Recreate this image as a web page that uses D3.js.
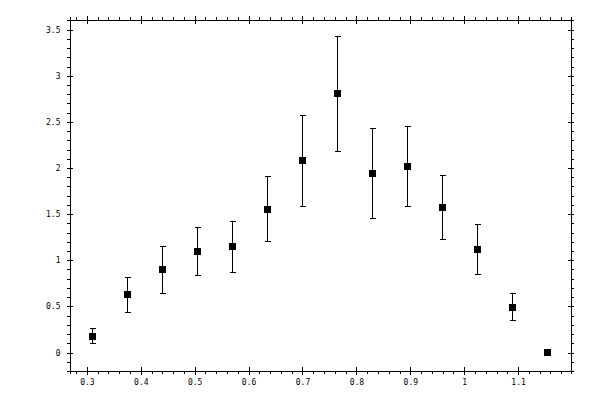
<!DOCTYPE html>
<html>
<head>
<meta charset="utf-8">
<script src="https://cdn.jsdelivr.net/npm/d3@7"></script>
<style>
  body { margin: 0; background: #fff; }
  svg { display: block; }
  .axis text { font-family: "DejaVu Sans Mono", monospace; font-size: 8px; fill: #000; }
  .axis path, .axis line { stroke: #000; shape-rendering: crispEdges; }
</style>
</head>
<body>
<div id="graph"></div>
<script>
// measured points (x, y, error bar low / high)
var xVals = [0.31, 0.375, 0.44, 0.505, 0.57, 0.635, 0.70, 0.765, 0.83, 0.895, 0.96, 1.025, 1.09, 1.155];
var yVals = [0.17, 0.63, 0.90, 1.10, 1.15, 1.55, 2.08, 2.81, 1.94, 2.015, 1.57, 1.12, 0.49, 0.0];
var yLow  = [0.10, 0.43, 0.64, 0.835, 0.865, 1.205, 1.58, 2.18, 1.45, 1.58, 1.225, 0.845, 0.345, 0.0];
var yHigh = [0.26, 0.815, 1.15, 1.355, 1.42, 1.91, 2.57, 3.43, 2.43, 2.45, 1.92, 1.385, 0.64, 0.0];

var xTicks = [0.3, 0.4, 0.5, 0.6, 0.7, 0.8, 0.9, 1, 1.1];
var xTickLabels = ["0.3", "0.4", "0.5", "0.6", "0.7", "0.8", "0.9", "1", "1.1"];
var xMinor = [0.28, 0.32, 0.34, 0.36, 0.38, 0.42, 0.44, 0.46, 0.48, 0.52, 0.54, 0.56, 0.58,
              0.62, 0.64, 0.66, 0.68, 0.72, 0.74, 0.76, 0.78, 0.82, 0.84, 0.86, 0.88,
              0.92, 0.94, 0.96, 0.98, 1.02, 1.04, 1.06, 1.08, 1.12, 1.14, 1.16, 1.18];
var yTicks = [0, 0.5, 1, 1.5, 2, 2.5, 3, 3.5];
var yTickLabels = ["0", "0.5", "1", "1.5", "2", "2.5", "3", "3.5"];
var yMinor = [-0.1, 0.1, 0.2, 0.3, 0.4, 0.6, 0.7, 0.8, 0.9, 1.1, 1.2, 1.3, 1.4, 1.6, 1.7, 1.8, 1.9,
              2.1, 2.2, 2.3, 2.4, 2.6, 2.7, 2.8, 2.9, 3.1, 3.2, 3.3, 3.4, 3.6];

var m = [19, 30, 30, 69]; // top right bottom left
var w = 501;
var h = 351;

var data = xVals.map(function(d, i) {
  return { x: d, y: yVals[i], lo: yLow[i], hi: yHigh[i] };
});

var x = d3.scaleLinear().domain([0.26775, 1.19725]).range([0, w]);
var y = d3.scaleLinear().domain([-0.195, 3.61]).range([h, 0]);

var svg = d3.select("#graph").append("svg")
  .attr("width", 600)
  .attr("height", 400);

var graph = svg.append("g")
  .attr("transform", "translate(" + (m[3] + 0.5) + "," + (m[0] + 0.5) + ")");

function xLabel(d) { return xTickLabels[xTicks.indexOf(d)]; }
function yLabel(d) { return yTickLabels[yTicks.indexOf(d)]; }

// bottom
graph.append("g").attr("class", "axis")
  .attr("transform", "translate(0," + h + ")")
  .call(d3.axisBottom(x).tickValues(xMinor).tickSize(3).tickFormat(""));
var xb = graph.append("g").attr("class", "axis")
  .attr("transform", "translate(0," + h + ")")
  .call(d3.axisBottom(x).tickValues(xTicks).tickSize(4).tickSizeOuter(0).tickPadding(5).tickFormat(xLabel));
xb.selectAll(".tick line").attr("y1", -4);

// top
graph.append("g").attr("class", "axis")
  .call(d3.axisTop(x).tickValues(xMinor).tickSize(3).tickFormat(""));
var xt = graph.append("g").attr("class", "axis")
  .call(d3.axisTop(x).tickValues(xTicks).tickSize(4).tickSizeOuter(0).tickFormat(""));
xt.selectAll(".tick line").attr("y1", 4);

// left
graph.append("g").attr("class", "axis")
  .call(d3.axisLeft(y).tickValues(yMinor).tickSize(3).tickFormat(""));
var yl = graph.append("g").attr("class", "axis")
  .call(d3.axisLeft(y).tickValues(yTicks).tickSize(3).tickSizeOuter(0).tickPadding(6).tickFormat(yLabel));
yl.selectAll(".tick line").attr("x1", 3);

// right
graph.append("g").attr("class", "axis")
  .attr("transform", "translate(" + w + ",0)")
  .call(d3.axisRight(y).tickValues(yMinor).tickSize(3).tickFormat(""));
var yr = graph.append("g").attr("class", "axis")
  .attr("transform", "translate(" + w + ",0)")
  .call(d3.axisRight(y).tickValues(yTicks).tickSize(3).tickSizeOuter(0).tickFormat(""));
yr.selectAll(".tick line").attr("x1", -3);

// error bars
var bars = graph.selectAll(".err")
  .data(data.filter(function(d) { return d.hi > d.lo; }))
  .enter().append("g")
  .attr("class", "err")
  .attr("stroke", "#000")
  .attr("shape-rendering", "crispEdges");

bars.append("line")
  .attr("x1", function(d) { return Math.round(x(d.x)); })
  .attr("x2", function(d) { return Math.round(x(d.x)); })
  .attr("y1", function(d) { return Math.round(y(d.lo)); })
  .attr("y2", function(d) { return Math.round(y(d.hi)); });
bars.append("line")
  .attr("x1", function(d) { return Math.round(x(d.x)) - 2.5; })
  .attr("x2", function(d) { return Math.round(x(d.x)) + 3; })
  .attr("y1", function(d) { return Math.round(y(d.hi)); })
  .attr("y2", function(d) { return Math.round(y(d.hi)); });
bars.append("line")
  .attr("x1", function(d) { return Math.round(x(d.x)) - 2.5; })
  .attr("x2", function(d) { return Math.round(x(d.x)) + 3; })
  .attr("y1", function(d) { return Math.round(y(d.lo)); })
  .attr("y2", function(d) { return Math.round(y(d.lo)); });

// square markers
graph.selectAll(".pt")
  .data(data)
  .enter().append("rect")
  .attr("class", "pt")
  .attr("x", function(d) { return Math.round(x(d.x)) - 3.5; })
  .attr("y", function(d) { return Math.round(y(d.y)) - 3.5; })
  .attr("width", 7)
  .attr("height", 7)
  .attr("fill", "#000")
  .attr("shape-rendering", "crispEdges");
</script>
</body>
</html>
